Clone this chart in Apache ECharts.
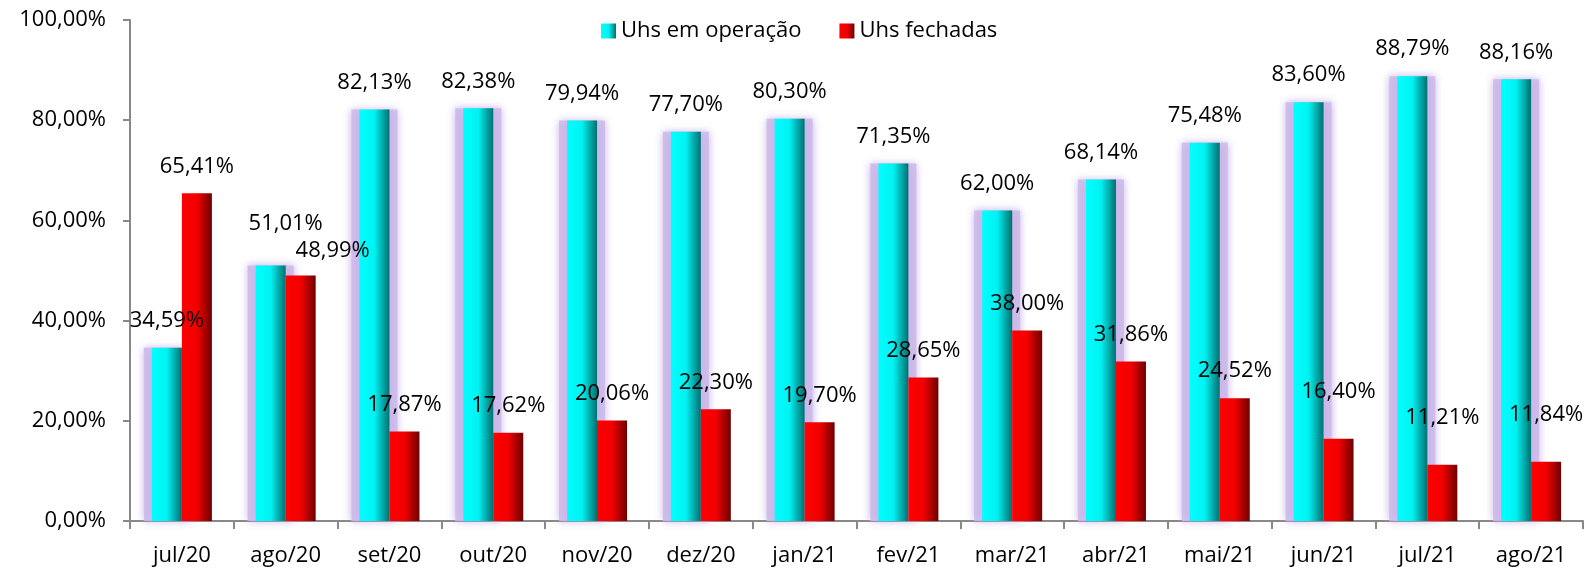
<!DOCTYPE html>
<html>
<head>
<meta charset="utf-8">
<script src="https://cdn.jsdelivr.net/npm/echarts@6/dist/echarts.min.js"></script>
<style>
html, body { margin: 0; padding: 0; background: #fff; }
#chart { width: 1587px; height: 569px; }
</style>
</head>
<body>
<div id="chart"></div>
<script>
// dados
var meses = ['jul/20', 'ago/20', 'set/20', 'out/20', 'nov/20', 'dez/20', 'jan/21', 'fev/21', 'mar/21', 'abr/21', 'mai/21', 'jun/21', 'jul/21', 'ago/21'];
var emOperacao = [34.59, 51.01, 82.13, 82.38, 79.94, 77.70, 80.30, 71.35, 62.00, 68.14, 75.48, 83.60, 88.79, 88.16];
var fechadas = [65.41, 48.99, 17.87, 17.62, 20.06, 22.30, 19.70, 28.65, 38.00, 31.86, 24.52, 16.40, 11.21, 11.84];
var yTicks = [0, 20, 40, 60, 80, 100];

var fonte = '"Open Sans", sans-serif';

function pct(v) {
    return v.toFixed(2).replace('.', ',') + '%';
}

// deslocamentos manuais dos rótulos (como no original)
var offOperacao = { 1: [15, -15] };
var offFechadas = { 1: [32, 2], 11: [0, -20], 12: [0, -20], 13: [0, -20] };

function montar(valores, offs) {
    return valores.map(function (v, i) {
        var item = { value: v };
        if (offs[i]) item.label = { offset: offs[i] };
        return item;
    });
}

var gradCiano = new echarts.graphic.LinearGradient(0, 0, 1, 0, [
    { offset: 0, color: '#00ffff' },
    { offset: 0.5, color: '#00f2f2' },
    { offset: 1, color: '#006f6f' }
]);
var gradVermelho = new echarts.graphic.LinearGradient(0, 0, 1, 0, [
    { offset: 0, color: '#ff0000' },
    { offset: 0.5, color: '#f20000' },
    { offset: 1, color: '#6f0000' }
]);

var rotulo = {
    show: true,
    position: 'top',
    distance: 16,
    color: '#000',
    fontFamily: fonte,
    fontSize: 22,
    formatter: function (p) { return pct(p.value); }
};

var chart = echarts.init(document.getElementById('chart'));
chart.setOption({
    backgroundColor: '#fff',
    animation: false,
    legend: {
        left: 596,
        top: 15,
        itemWidth: 15,
        itemHeight: 15,
        itemGap: 38,
        icon: 'rect',
        textStyle: { fontFamily: fonte, fontSize: 22, color: '#000' },
        data: ['Uhs em operação', 'Uhs fechadas']
    },
    grid: { left: 130, right: 4, top: 20, bottom: 48, containLabel: false },
    xAxis: [{
        type: 'category',
        data: meses,
        axisLine: { lineStyle: { color: '#888', width: 2 } },
        axisTick: { show: true, length: 8, lineStyle: { color: '#888', width: 2 } },
        axisLabel: { margin: 24, color: '#000', fontFamily: fonte, fontSize: 22 }
    }, {
        // eixo oculto só para o brilho lilás atrás das barras ciano
        type: 'category',
        data: meses,
        show: false
    }],
    yAxis: {
        type: 'value',
        min: yTicks[0],
        max: yTicks[yTicks.length - 1],
        interval: yTicks[1] - yTicks[0],
        axisLine: { show: true, lineStyle: { color: '#888', width: 2 } },
        axisTick: { show: true, length: 7, lineStyle: { color: '#888', width: 2 } },
        splitLine: { show: false },
        axisLabel: {
            margin: 24,
            color: '#000',
            fontFamily: fonte,
            fontSize: 22,
            formatter: function (v) { return pct(v); }
        }
    },
    series: [
        {
            name: 'brilho',
            type: 'bar',
            xAxisIndex: 1,
            barWidth: 46,
            barGap: '0%',
            z: 1,
            silent: true,
            data: emOperacao,
            itemStyle: {
                color: 'rgba(203, 185, 234, 0.85)',
                shadowColor: 'rgba(190, 165, 228, 1)',
                shadowBlur: 8
            }
        },
        {
            name: 'vazio',
            type: 'bar',
            xAxisIndex: 1,
            barWidth: 30,
            barGap: '0%',
            z: 1,
            silent: true,
            data: fechadas,
            itemStyle: { color: 'rgba(0,0,0,0)' }
        },
        {
            name: 'Uhs em operação',
            type: 'bar',
            barWidth: 30,
            barGap: '0%',
            z: 3,
            data: montar(emOperacao, offOperacao),
            itemStyle: { color: gradCiano },
            label: rotulo
        },
        {
            name: 'Uhs fechadas',
            type: 'bar',
            barWidth: 30,
            barGap: '0%',
            z: 3,
            data: montar(fechadas, offFechadas),
            itemStyle: { color: gradVermelho },
            label: rotulo
        }
    ]
});
</script>
</body>
</html>
